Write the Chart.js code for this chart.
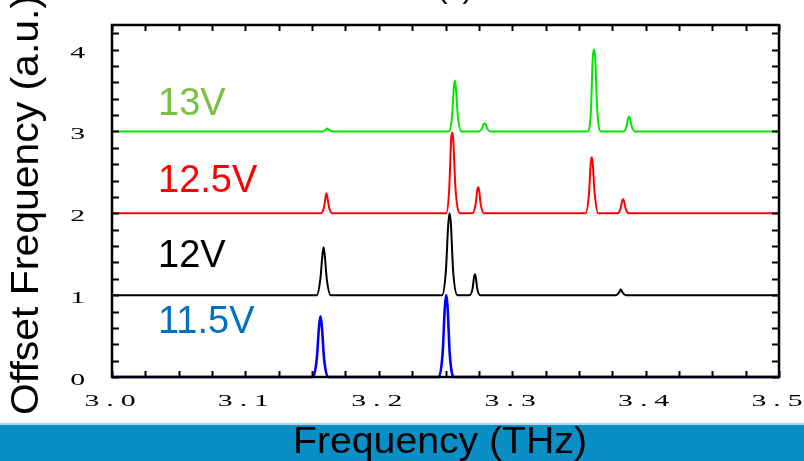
<!DOCTYPE html>
<html>
<head>
<meta charset="utf-8">
<script src="https://cdn.jsdelivr.net/npm/chart.js@4.4.1/dist/chart.umd.min.js"></script>
<style>
  html, body { margin: 0; padding: 0; background: #fff; }
  canvas { display: block; }
</style>
</head>
<body>
<canvas id="spectra" width="804" height="461"></canvas>
<script>
// spectra, each bias voltage offset by 1 a.u.
const freq115 = [3.000, 3.1505, 3.1535, 3.1552, 3.1562, 3.1572, 3.1590, 3.1620,
                 3.2448, 3.2478, 3.2495, 3.2505, 3.2515, 3.2532, 3.2562, 3.500];
const val115  = [0, 0, 0.22, 0.62, 0.74, 0.64, 0.22, 0,
                 0, 0.28, 0.85, 1.00, 0.87, 0.28, 0, 0];

const freq12 = [3.000, 3.1535, 3.1562, 3.1578, 3.1586, 3.1594, 3.1610, 3.1640,
                3.2475, 3.2503, 3.2520, 3.2530, 3.2540, 3.2557, 3.2590,
                3.2680, 3.2703, 3.2714, 3.2720, 3.2727, 3.2738, 3.2760,
                3.3780, 3.3800, 3.3814, 3.3828, 3.3850, 3.500];
const val12  = [1.0, 1.0, 1.2, 1.5, 1.585, 1.5, 1.2, 1.0,
                1.0, 1.3, 1.85, 2.0, 1.88, 1.3, 1.0,
                1.0, 1.08, 1.22, 1.256, 1.22, 1.08, 1.0,
                1.0, 1.03, 1.073, 1.03, 1.0, 1.0];

const freq125 = [3.000, 3.1565, 3.1590, 3.1601, 3.1607, 3.1614, 3.1626, 3.1650,
                 3.2505, 3.2528, 3.2542, 3.2550, 3.2558, 3.2575, 3.2610,
                 3.2700, 3.2725, 3.2738, 3.2745, 3.2752, 3.2765, 3.2790,
                 3.3550, 3.3576, 3.3589, 3.3596, 3.3603, 3.3618, 3.3645,
                 3.3790, 3.3813, 3.3824, 3.3831, 3.3838, 3.3850, 3.3875, 3.500];
const val125  = [2.0, 2.0, 2.08, 2.2, 2.244, 2.2, 2.08, 2.0,
                 2.0, 2.3, 2.9, 2.988, 2.9, 2.3, 2.0,
                 2.0, 2.1, 2.28, 2.317, 2.28, 2.1, 2.0,
                 2.0, 2.25, 2.62, 2.683, 2.62, 2.25, 2.0,
                 2.0, 2.06, 2.15, 2.171, 2.15, 2.06, 2.0, 2.0];

const freq13 = [3.000, 3.1580, 3.1602, 3.1614, 3.1626, 3.1650,
                3.2525, 3.2550, 3.2563, 3.2570, 3.2577, 3.2592, 3.2620,
                3.2750, 3.2775, 3.2786, 3.2793, 3.2800, 3.2811, 3.2835,
                3.3565, 3.3590, 3.3604, 3.3613, 3.3622, 3.3638, 3.3665,
                3.3835, 3.3858, 3.3869, 3.3876, 3.3883, 3.3895, 3.3920, 3.500];
const val13  = [3.0, 3.0, 3.02, 3.037, 3.02, 3.0,
                3.0, 3.2, 3.55, 3.622, 3.55, 3.2, 3.0,
                3.0, 3.04, 3.09, 3.098, 3.09, 3.04, 3.0,
                3.0, 3.25, 3.9, 4.0, 3.9, 3.25, 3.0,
                3.0, 3.07, 3.16, 3.183, 3.16, 3.07, 3.0, 3.0];

const seriesNames = ['11.5V', '12V', '12.5V', '13V'];
const xTickLabels = ['3.0', '3.1', '3.2', '3.3', '3.4', '3.5'];
const yTickLabels = ['0', '1', '2', '3', '4'];

const lineColors = ['#0000ff', '#000000', '#ff0000', '#00e600'];
const labelColors = ['#0070c0', '#000000', '#ff0000', '#7ac143'];
const labelBaselines = [333, 267, 192, 115];

function pts(fx, fy) {
  return fx.map((f, i) => ({ x: f, y: fy[i] }));
}

const traces = [pts(freq115, val115), pts(freq12, val12), pts(freq125, val125), pts(freq13, val13)];

const tickFont = '17px "Liberation Serif", "Times New Roman", serif';
const stretch = 1.75; // the original tick numbers are drawn wide

const frame = {
  id: 'frame',
  beforeDraw(chart) {
    const ctx = chart.ctx;
    ctx.save();
    ctx.fillStyle = '#fff';
    ctx.fillRect(0, 0, chart.width, chart.height);
    ctx.fillStyle = '#a8d4ec';
    ctx.fillRect(0, 423, chart.width, 2);
    ctx.fillStyle = '#0a8ec6';
    ctx.fillRect(0, 425, chart.width, chart.height - 425);
    ctx.restore();
  },
  afterDraw(chart) {
    const ctx = chart.ctx;
    const a = chart.chartArea;
    const xs = chart.scales.x, ys = chart.scales.y;
    ctx.save();
    ctx.strokeStyle = '#000';
    ctx.lineWidth = 2;
    ctx.beginPath();
    xs.ticks.forEach(t => {
      const px = Math.round(xs.getPixelForValue(t.value)) + 0.5;
      ctx.moveTo(px, a.bottom); ctx.lineTo(px, a.bottom - 6);
      ctx.moveTo(px, a.top); ctx.lineTo(px, a.top + 6);
    });
    ys.ticks.forEach(t => {
      const py = Math.round(ys.getPixelForValue(t.value)) + 0.5;
      ctx.moveTo(a.left, py); ctx.lineTo(a.left + 7, py);
      ctx.moveTo(a.right, py); ctx.lineTo(a.right - 7, py);
    });
    ctx.stroke();
    ctx.lineWidth = 2.5;
    ctx.strokeRect(a.left, a.top, a.right - a.left, a.bottom - a.top);

    // tick numbers
    ctx.fillStyle = '#000';
    ctx.font = tickFont;
    ctx.textBaseline = 'middle';
    xs.ticks.forEach(t => {
      if (!t.label) return;
      ctx.save();
      ctx.translate(xs.getPixelForValue(t.value) + 1.5, a.bottom + 25);
      ctx.scale(stretch, 1);
      ctx.letterSpacing = '4px';
      ctx.textAlign = 'center';
      ctx.fillText(t.label, 0, 0);
      ctx.restore();
    });
    ys.ticks.forEach(t => {
      if (!t.label) return;
      ctx.save();
      ctx.translate(a.left - 27, ys.getPixelForValue(t.value) + 3.5);
      ctx.scale(stretch, 1);
      ctx.textAlign = 'right';
      ctx.fillText(t.label, 0, 0);
      ctx.restore();
    });

    // series names
    ctx.font = '38px "Liberation Sans", Arial, sans-serif';
    ctx.textBaseline = 'alphabetic';
    ctx.textAlign = 'left';
    seriesNames.forEach((n, i) => {
      ctx.fillStyle = labelColors[i];
      ctx.fillText(n, a.left + 46, labelBaselines[i]);
    });

    // x title on the banner
    ctx.fillStyle = '#000';
    ctx.font = '37px "Liberation Sans", Arial, sans-serif';
    const xt = 'Frequency (THz)';
    const sx = 294 / ctx.measureText(xt).width;
    ctx.save();
    ctx.translate(440, 453);
    ctx.scale(sx, 1);
    ctx.textAlign = 'center';
    ctx.fillText(xt, 0, 0);
    ctx.restore();

    // y title, runs off the top like the original
    ctx.font = '38px "Liberation Sans", Arial, sans-serif';
    const yt = 'Offset Frequency (a.u.)';
    const sy = 420 / ctx.measureText(yt).width;
    ctx.save();
    ctx.translate(38, 415);
    ctx.rotate(-Math.PI / 2);
    ctx.scale(sy, 1);
    ctx.textAlign = 'left';
    ctx.fillText(yt, 0, 0);
    ctx.restore();

    // panel tag, mostly cut off at the top edge
    ctx.font = '30px "Liberation Sans", Arial, sans-serif';
    ctx.textAlign = 'center';
    ctx.fillText('(c)', 455, -2);
    ctx.restore();
  }
};

new Chart(document.getElementById('spectra'), {
  type: 'line',
  data: {
    datasets: traces.map((d, i) => ({
      label: seriesNames[i],
      data: d,
      borderColor: lineColors[i],
      borderWidth: i === 0 ? 2.6 : 2,
      pointRadius: 0,
      fill: false,
      cubicInterpolationMode: 'monotone',
      clip: 4
    }))
  },
  options: {
    responsive: false,
    animation: false,
    devicePixelRatio: 1,
    layout: { padding: { top: 25, right: 25, left: 0, bottom: 0 } },
    plugins: { legend: { display: false }, tooltip: { enabled: false }, title: { display: false } },
    scales: {
      x: {
        type: 'linear',
        min: 3.0,
        max: 3.5,
        grid: { display: false, drawTicks: false },
        border: { display: false },
        afterFit(s) { s.height = 84; },
        ticks: {
          display: false,
          stepSize: 0.025,
          autoSkip: false,
          includeBounds: false,
          callback(v) {
            const k = Math.round(v * 40);
            return k % 4 === 0 ? xTickLabels[(k - 120) / 4] : '';
          }
        }
      },
      y: {
        type: 'linear',
        min: 0,
        max: 4.3,
        grid: { display: false, drawTicks: false },
        border: { display: false },
        afterFit(s) { s.width = 112; },
        ticks: {
          display: false,
          stepSize: 0.2,
          autoSkip: false,
          includeBounds: false,
          callback(v) {
            const k = Math.round(v * 5);
            return k % 5 === 0 ? yTickLabels[k / 5] : '';
          }
        }
      }
    }
  },
  plugins: [frame]
});
</script>
</body>
</html>
